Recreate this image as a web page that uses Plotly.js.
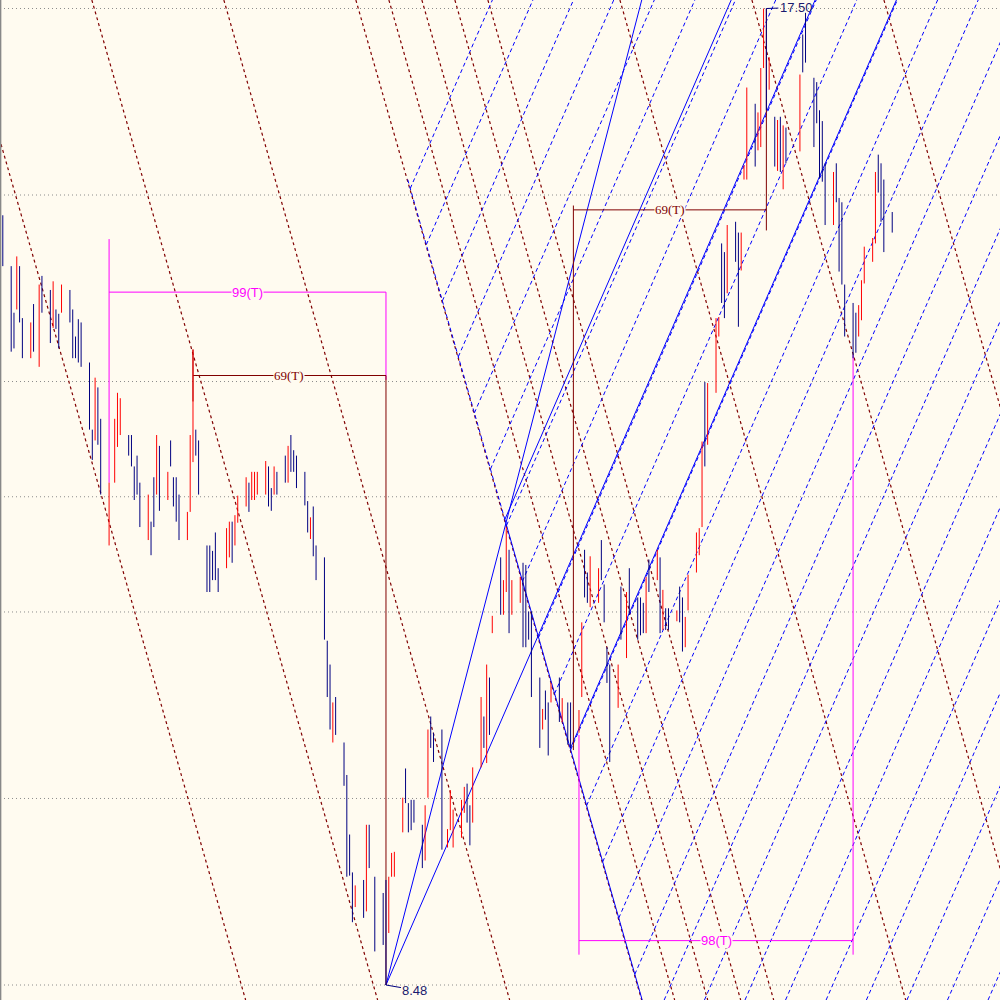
<!DOCTYPE html>
<html>
<head>
<meta charset="utf-8">
<script src="https://cdn.plot.ly/plotly-3.0.1.min.js"></script>
<style>
html,body{margin:0;padding:0;background:#FFFBF0;}
#chart{width:1000px;height:1000px;}
</style>
</head>
<body>
<div id="chart"></div>
<script>
// ---------------- price bars (day index, high, low, up=1 / down=0) ----------------
const barDay = [1,4,5,6,7,8,11,12,14,15,18,19,20,21,22,25,26,27,28,29,32,33,34,35,36,39,41,42,43,46,47,48,49,50,53,54,55,56,57,60,61,62,63,64,67,68,69,70,71,74,75,76,77,78,81,82,83,84,85,88,89,90,91,92,95,96,97,98,99,102,103,104,105,106,109,110,111,112,113,116,117,118,119,120,123,124,125,126,127,130,131,132,134,137,138,139,140,141,144,145,146,147,148,151,152,153,154,155,158,160,161,162,165,166,167,168,169,172,173,174,175,176,179,180,181,182,183,186,187,188,189,190,193,194,195,196,197,200,201,203,204,207,208,209,210,211,214,215,216,217,218,221,222,224,225,228,229,230,231,232,235,236,237,238,239,242,243,244,245,246,249,250,251,252,253,256,257,258,259,260,263,264,265,266,267,270,271,272,273,274,275,277,278,279,280,281,286,287,288,291,292,293,294,295,298,299,300,301,302,305,306,307,308,309,312,313,314,315,316,319];
const barHigh = [15.59,15.12,14.69,15.21,15.12,14.64,14.60,14.77,14.95,15.03,14.90,14.98,14.72,14.68,14.95,14.90,14.72,14.47,14.63,14.60,14.23,13.61,14.09,14.00,13.71,13.12,13.71,13.95,13.90,13.56,13.56,13.27,13.37,13.12,13.01,12.76,13.17,13.56,13.46,13.22,13.51,13.17,13.17,13.01,12.85,13.56,14.35,13.61,13.51,12.54,12.54,12.49,12.66,12.33,12.70,12.76,12.76,12.82,13.00,13.17,13.12,13.22,13.22,13.22,13.32,13.27,13.07,13.27,13.22,13.37,13.46,13.56,13.42,13.37,13.22,12.95,12.80,12.90,12.54,12.43,11.66,11.44,11.09,11.14,10.72,10.42,9.87,9.52,9.40,9.45,9.96,9.96,9.48,9.33,9.45,9.48,9.70,9.71,10.21,10.48,10.16,10.19,10.19,9.96,10.14,10.84,10.96,10.81,10.84,9.92,10.28,10.10,10.19,10.31,10.34,10.14,10.49,11.14,10.96,11.44,11.32,11.89,12.43,12.22,12.71,12.50,12.22,12.25,12.38,12.36,11.93,11.93,11.32,11.03,11.20,11.09,11.27,11.32,11.13,11.09,11.09,11.02,11.83,12.50,12.29,12.44,12.33,12.59,12.18,11.60,11.44,11.44,12.16,12.11,12.33,12.06,12.06,12.01,12.25,12.41,12.50,12.43,12.13,11.96,11.96,11.94,12.16,12.06,11.88,12.27,12.66,12.70,13.50,14.05,14.04,14.64,14.65,15.33,15.25,15.50,15.53,15.43,15.43,16.05,16.77,16.62,16.54,16.95,17.50,17.50,17.05,16.50,16.47,16.50,16.42,16.40,16.89,17.26,17.46,16.86,16.82,16.56,16.46,16.07,15.99,16.07,15.75,15.71,14.95,14.78,14.69,14.76,14.99,15.30,15.38,15.99,16.15,16.07,15.92,15.62];
const barLow = [15.12,14.33,14.36,14.72,14.60,14.27,14.27,14.33,14.19,14.69,14.41,14.55,14.54,14.36,14.69,14.60,14.27,14.27,14.23,14.19,13.61,13.33,13.51,13.47,13.01,12.54,13.12,13.45,13.56,13.37,13.27,12.96,13.01,12.71,12.59,12.45,12.71,13.01,12.86,12.96,13.27,12.90,12.76,12.59,12.59,12.85,13.31,13.37,13.01,12.11,12.11,12.22,12.22,12.11,12.33,12.43,12.38,12.54,12.75,12.90,12.85,12.96,12.96,13.01,13.01,12.90,12.86,13.01,13.01,13.12,13.12,13.22,13.22,13.07,12.91,12.66,12.60,12.44,12.22,11.67,11.14,10.84,10.72,10.79,10.32,9.48,9.49,9.06,9.20,9.10,9.16,9.56,8.79,8.85,8.48,8.96,9.48,9.48,9.89,10.16,9.89,9.91,9.98,9.56,9.63,10.21,10.67,10.54,9.73,9.75,9.91,9.75,9.84,10.07,9.98,9.77,9.98,10.49,10.67,10.53,10.79,11.73,11.90,11.90,12.11,11.73,11.90,12.01,11.60,11.60,11.67,11.14,10.67,10.84,10.93,10.60,11.09,10.91,10.91,10.70,10.67,10.81,11.14,12.06,12.01,11.97,12.01,12.22,11.83,11.27,10.54,11.04,11.67,11.50,11.90,11.67,11.71,11.73,11.73,12.11,12.22,11.73,11.76,11.76,11.76,11.84,11.83,11.56,11.60,11.94,12.29,12.45,12.71,13.27,13.47,13.95,14.47,14.78,14.64,14.87,15.16,14.56,15.08,15.92,15.92,16.04,16.19,16.22,16.95,16.56,16.75,16.04,16.00,15.99,15.83,16.07,16.18,16.91,17.00,16.22,16.44,15.93,15.90,15.50,15.50,15.71,15.07,14.95,14.47,14.27,14.32,14.47,14.62,14.96,15.16,15.33,15.80,15.53,15.25,15.43];
const barUp = [0,0,0,1,0,0,1,0,1,0,0,1,0,0,1,0,0,0,0,0,0,0,1,0,0,1,1,1,1,0,0,0,0,0,1,0,0,1,0,1,0,0,0,0,1,1,1,0,0,0,0,0,0,0,1,1,0,1,1,1,0,1,1,1,1,0,0,1,0,0,1,0,0,0,0,0,1,0,0,0,0,0,1,0,0,0,0,0,1,0,1,0,0,0,0,1,1,1,1,0,0,0,0,0,1,1,0,0,0,1,1,1,1,1,0,0,1,1,0,1,0,1,0,1,1,0,1,1,0,0,0,0,0,1,0,0,1,0,1,0,0,1,1,0,0,1,1,0,0,0,0,1,0,1,0,0,0,0,1,0,1,0,1,0,0,1,0,0,1,1,1,1,1,0,1,1,1,0,0,1,0,0,1,1,1,0,1,1,1,0,1,0,1,0,1,0,1,0,0,0,0,0,0,0,1,0,0,0,0,0,0,1,1,1,1,1,0,0,0,0];

// ---------------- key pivots and levels ----------------
const lowDay = 138, lowPrice = 8.48;
const highDay = 274, highPrice = 17.50;
const peakDay = 180.5, peakPrice = 12.78;      // swing high where the fan lines cross
const pivotDay = 204, pivotPrice = 10.67;      // later swing low
const fibRatios = [0, 0.191, 0.382, 0.5, 0.618, 0.809, 1];

// ---------------- analysis lines ----------------
const steepSlope = 0.0995;      // price per day
const fanSlope = 0.0593;        // price per day
const downSlope = -0.0904;      // price per day (brown time lines)
const brownDayAtHigh = [-13.5, 33.7, 80.9, 128.1, 139.9, 151.7, 163.5, 175.3, 222.5, 269.7, 316.9, 364.1];
const blueDashDayAtLow = [22.6, 37.1, 51.6, 66.0, 80.5, 95.0, 109.5, 123.9, 138.4, 152.9, 167.4, 181.8, 196.3, 210.8, 225.3, 239.8, 254.2, 268.7, 283.2, 297.7, 312.1, 326.6, 341.1, 355.6];

// ---------------- period counts ----------------
const spanText  = ['99(T)', '69(T)', '69(T)', '98(T)'];
const spanStart = [39, 69, 205, 207];
const spanEnd   = [138, 138, 274, 305];
const spanLevel = [14.88, 14.11, 15.64, 8.89];
const spanLeftTop = [15.37, 14.35, 15.68, 10.79];
const spanLeftBot = [13.12, 13.87, 10.65, 8.76];
const spanRightTop = [14.88, 14.11, 17.50, 14.30];
const spanRightBot = [14.07, 8.48, 15.45, 8.76];

const xRange = [0, 357.53];
const yRange = [8.3414, 17.5785];

const groups = {};
function addSeg(key, line, x0, y0, x1, y1) {
  if (!groups[key]) groups[key] = {type:'scatter', mode:'lines', x:[], y:[], line:line, hoverinfo:'skip', showlegend:false};
  groups[key].x.push(x0, x1, null);
  groups[key].y.push(y0, y1, null);
}
const GRID = {color:'#8c8c8c', width:1, dash:'1px,3px'};
const BROWN = {color:'#800000', width:1.2, dash:'3px,3px'};
const BLUED = {color:'#0000FF', width:1, dash:'4px,3px'};
const BLUE = {color:'#0000FF', width:1};

// fib grid
const rangeP = highPrice - lowPrice;
fibRatios.forEach(r => addSeg('grid', GRID, xRange[0], lowPrice + r*rangeP, xRange[1], lowPrice + r*rangeP));

// brown parallel time lines
brownDayAtHigh.forEach(d => {
  const dTop = d + (yRange[1]-highPrice)/downSlope;
  const dBot = d + (yRange[0]-highPrice)/downSlope;
  addSeg('brown', BROWN, dTop, yRange[1], dBot, yRange[0]);
});

// blue dashed ascending grid, starting at the descending line through the peak
blueDashDayAtLow.forEach(a => {
  let dStart = (peakPrice - downSlope*peakDay - lowPrice + fanSlope*a)/(fanSlope - downSlope);
  let pStart = lowPrice + fanSlope*(dStart - a);
  if (pStart < yRange[0]) { pStart = yRange[0]; dStart = a + (pStart-lowPrice)/fanSlope; }
  const dEnd = a + (yRange[1]-lowPrice)/fanSlope;
  addSeg('bluedash', BLUED, dStart, pStart, dEnd, yRange[1]);
});
const dashTopPrice = 15.92;
addSeg('bluedash', BLUED, peakDay + (dashTopPrice-peakPrice)/downSlope, dashTopPrice, peakDay, peakPrice);

// solid fan lines
addSeg('blue', BLUE, lowDay, lowPrice, lowDay + (yRange[1]-lowPrice)/steepSlope, yRange[1]);
addSeg('blue', BLUE, lowDay, lowPrice, lowDay + (yRange[1]-lowPrice)/fanSlope, yRange[1]);
addSeg('blue', BLUE, pivotDay, pivotPrice, pivotDay + (yRange[1]-pivotPrice)/fanSlope, yRange[1]);
addSeg('blue', BLUE, peakDay, peakPrice, peakDay + (yRange[1]-peakPrice)/fanSlope, yRange[1]);
addSeg('blue', BLUE, peakDay, peakPrice, peakDay + (yRange[0]-peakPrice)/downSlope, yRange[0]);

// bars
barDay.forEach((d, i) => {
  const key = barUp[i] ? 'up' : 'down';
  const line = barUp[i] ? {color:'#FF0000', width:1} : {color:'#000080', width:1};
  addSeg(key, line, d, barHigh[i], d, barLow[i]);
});

// period markers
const spanColor = ['#FF00FF', '#800000', '#800000', '#FF00FF'];
const annotations = [];
spanText.forEach((t, i) => {
  const ln = {color: spanColor[i], width: 1};
  const k = 'span' + i;
  addSeg(k, ln, spanStart[i], spanLevel[i], spanEnd[i], spanLevel[i]);
  addSeg(k, ln, spanStart[i], spanLeftTop[i], spanStart[i], spanLeftBot[i]);
  addSeg(k, ln, spanEnd[i], spanRightTop[i], spanEnd[i], spanRightBot[i]);
  const serif = spanColor[i] === '#800000';
  annotations.push({x:(spanStart[i]+spanEnd[i])/2, y:spanLevel[i], text:t, showarrow:false,
    font:{family: serif ? 'Liberation Serif, serif' : 'Liberation Sans Narrow, Liberation Sans, sans-serif', size:13, color: spanColor[i]},
    bgcolor:'#FFFBF0', borderpad:0, xanchor:'center', yanchor:'middle'});
});
annotations.push({x:highDay, y:highPrice, text:highPrice.toFixed(2), showarrow:true, arrowhead:0, arrowwidth:1,
  arrowcolor:'#000080', ax:30, ay:-1, standoff:0, font:{family:'Liberation Sans Narrow, Liberation Sans, sans-serif', size:13, color:'#1a1a6e'}});
annotations.push({x:lowDay, y:lowPrice, text:lowPrice.toFixed(2), showarrow:true, arrowhead:0, arrowwidth:1,
  arrowcolor:'#000080', ax:29, ay:5, standoff:0, font:{family:'Liberation Sans Narrow, Liberation Sans, sans-serif', size:13, color:'#1a1a6e'}});

const order = ['grid','brown','bluedash','blue','span0','span1','span2','span3','down','up'];
const traces = order.filter(k => groups[k]).map(k => groups[k]);

const layout = {
  width:1000, height:1000, margin:{l:0,r:0,t:0,b:0},
  paper_bgcolor:'#FFFBF0', plot_bgcolor:'#FFFBF0',
  xaxis:{range:xRange, visible:false, fixedrange:true},
  yaxis:{range:yRange, visible:false, fixedrange:true},
  showlegend:false, annotations:annotations,
  shapes:[{type:'line', xref:'paper', yref:'paper', x0:0.0006, x1:0.0006, y0:0, y1:1, line:{color:'#888888', width:1.5}}]
};
Plotly.newPlot('chart', traces, layout, {staticPlot:true, displayModeBar:false});
</script>
</body>
</html>
